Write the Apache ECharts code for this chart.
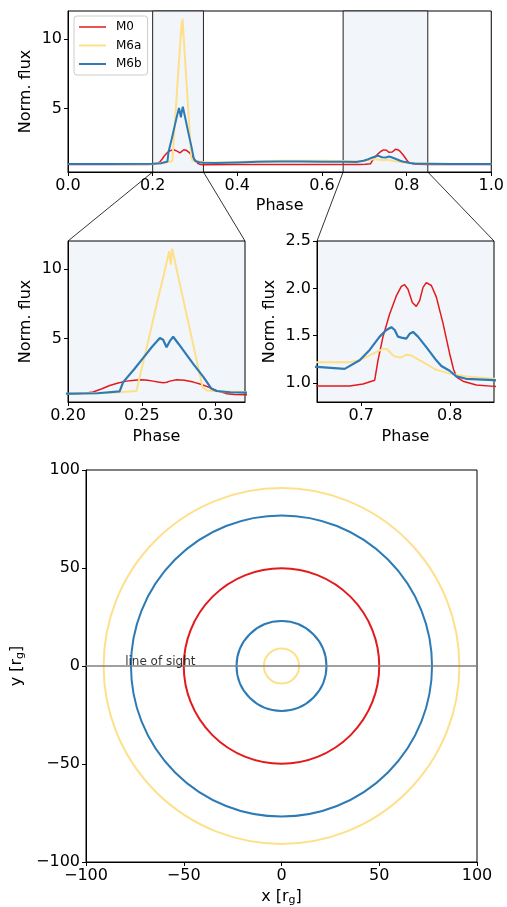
<!DOCTYPE html>
<html><head><meta charset="utf-8">
<script src="https://cdn.jsdelivr.net/npm/echarts@6/dist/echarts.min.js"></script>
<style>html,body{margin:0;padding:0;background:#fff}#c{width:507px;height:907px}</style>
</head><body><div id="c"></div>
<script>
// ---- data ----
const phaseM0 = [0, 0.1, 0.19, 0.2, 0.21, 0.217, 0.223, 0.2283, 0.234, 0.2396, 0.245, 0.2498, 0.254, 0.2577, 0.261, 0.2645, 0.267, 0.269, 0.2736, 0.279, 0.285, 0.29, 0.294, 0.2975, 0.3007, 0.3075, 0.313, 0.32, 0.4, 0.5, 0.6, 0.65, 0.6869, 0.702, 0.7152, 0.7189, 0.7246, 0.7321, 0.7396, 0.7453, 0.749, 0.7528, 0.7577, 0.7622, 0.766, 0.7698, 0.7735, 0.7792, 0.7848, 0.7924, 0.7999, 0.8044, 0.8082, 0.815, 0.83, 0.85, 0.9, 1.0];
const fluxM0 = [0.97, 0.97, 0.97, 0.98, 1.05, 1.15, 1.38, 1.62, 1.8, 1.93, 2.0, 2.03, 2.0, 1.93, 1.86, 1.81, 1.85, 1.93, 2.03, 2.0, 1.86, 1.7, 1.55, 1.4, 1.26, 1.03, 0.97, 0.95, 0.96, 0.96, 0.965, 0.97, 0.97, 0.99, 1.03, 1.24, 1.49, 1.73, 1.92, 2.02, 2.04, 1.99, 1.85, 1.81, 1.87, 2.01, 2.06, 2.03, 1.91, 1.63, 1.31, 1.14, 1.06, 1.02, 0.98, 0.965, 0.96, 0.96];

const phaseM6a = [0, 0.1, 0.2, 0.23, 0.2464, 0.25, 0.255, 0.26, 0.265, 0.2686, 0.2697, 0.2706, 0.275, 0.28, 0.285, 0.2912, 0.294, 0.3, 0.32, 0.35, 0.4, 0.45, 0.5, 0.55, 0.6, 0.65, 0.6869, 0.6982, 0.7133, 0.7246, 0.7291, 0.734, 0.7378, 0.7453, 0.7509, 0.7566, 0.7698, 0.7848, 0.7999, 0.8187, 0.85, 0.9, 1.0];
const fluxM6a = [1.0, 1.0, 1.03, 1.1, 1.22, 2.85, 5.1, 7.4, 9.6, 11.26, 10.3, 11.45, 9.3, 6.9, 4.5, 1.5, 1.26, 1.2, 1.14, 1.12, 1.15, 1.2, 1.23, 1.24, 1.23, 1.22, 1.22, 1.24, 1.31, 1.36, 1.36, 1.31, 1.28, 1.27, 1.30, 1.29, 1.22, 1.14, 1.10, 1.07, 1.045, 1.02, 1.0];

const phaseM6b = [0, 0.1, 0.2, 0.22, 0.235, 0.2374, 0.245, 0.251, 0.257, 0.2623, 0.2645, 0.2668, 0.269, 0.2713, 0.275, 0.2849, 0.292, 0.2973, 0.3007, 0.31, 0.32, 0.35, 0.4, 0.45, 0.5, 0.55, 0.6, 0.65, 0.6813, 0.6831, 0.6982, 0.7095, 0.7208, 0.7283, 0.734, 0.7378, 0.7415, 0.7453, 0.7509, 0.7547, 0.7585, 0.7641, 0.7735, 0.7848, 0.7905, 0.7999, 0.8074, 0.8187, 0.85, 0.9, 1.0];
const fluxM6b = [1.0, 1.0, 1.03, 1.06, 1.19, 1.86, 2.8, 3.6, 4.4, 5.03, 4.9, 4.36, 4.8, 5.12, 4.6, 3.17, 2.2, 1.38, 1.22, 1.13, 1.1, 1.08, 1.12, 1.16, 1.18, 1.18, 1.17, 1.17, 1.15, 1.17, 1.24, 1.35, 1.49, 1.56, 1.59, 1.56, 1.49, 1.48, 1.47, 1.52, 1.54, 1.49, 1.38, 1.24, 1.18, 1.13, 1.07, 1.045, 1.03, 1.0, 1.0];

const zoomBand1 = [0.2, 0.32];
const zoomBand2 = [0.65, 0.85];

const orbitRadiiM0 = [50];
const orbitRadiiM6a = [91, 9];
const orbitRadiiM6b = [77, 23];
const lineOfSightX = [-100, 100];
const lineOfSightY = [0, 0];
const lineOfSightLabelX = -80;

const topXTicks = [0, 0.2, 0.4, 0.6, 0.8, 1.0];
const fluxTicks = [5, 10];
const zoom1XTicks = [0.2, 0.25, 0.3];
const zoom2XTicks = [0.7, 0.8];
const zoom2YTicks = [1.0, 1.5, 2.0, 2.5];
const orbitTicks = [-100, -50, 0, 50, 100];

// ---- styling ----
const C = {M0: '#e31a1c', M6a: '#fee08b', M6b: '#2c7bb6'};
const FONT = 'DejaVu Sans';
const SHADE = '#f2f6fa';

const zip = (a, b) => a.map((v, i) => [v, b[i]]);
const minus = s => String(s).replace('-', '\u2212');

function axis(kind, gi, min, max, ticks, fmt, name, gap, extra) {
  return Object.assign({
    type: 'value', gridIndex: gi, min, max,
    axisLine: {show: true, onZero: false, lineStyle: {color: '#000', width: 1}},
    axisTick: {show: true, length: 4, lineStyle: {color: '#000', width: 1}, customValues: ticks},
    axisLabel: {customValues: ticks, formatter: v => minus(fmt(v)), color: '#000', fontSize: 16, fontFamily: FONT, margin: 6},
    splitLine: {show: false},
    name, nameLocation: 'middle', nameGap: gap, nameMoveOverlap: false,
    nameTextStyle: {color: '#000', fontSize: 16, fontFamily: FONT}
  }, extra || {});
}

const sub = {
  a: {fontSize: 16, fontFamily: FONT, color: '#000'},
  s: {fontSize: 11, fontFamily: FONT, color: '#000', verticalAlign: 'bottom', padding: [8, 0, 0, 0]}
};

function lineSeries(name, px, fx, xi, yi, w) {
  return {
    type: 'line', name, xAxisIndex: xi, yAxisIndex: yi, data: zip(px, fx),
    symbol: 'none', smooth: false, z: 3,
    lineStyle: {color: C[name], width: w}, itemStyle: {color: C[name]}
  };
}

function orbitSeries(name, radii, w) {
  return {
    type: 'custom', name: name + ' orbit', coordinateSystem: 'cartesian2d',
    xAxisIndex: 3, yAxisIndex: 3, z: 3,
    data: radii.map(r => [r, 0]),
    renderItem: function (params, api) {
      const r = api.value(0);
      const c = api.coord([0, 0]);
      const s = api.size([r, r]);
      return {type: 'circle', shape: {cx: c[0], cy: c[1], r: s[0]},
        style: {fill: 'none', stroke: C[name], lineWidth: w}};
    }
  };
}

const lineIcon = (h) => 'path://M0,0L0.01,0M0,' + (7 - h / 2) + 'L27,' + (7 - h / 2) + 'L27,' + (7 + h / 2) + 'L0,' + (7 + h / 2) + 'ZM27,14L26.99,14';

const chart = echarts.init(document.getElementById('c'), null, {renderer: 'canvas'});

const option = {
  animation: false,
  backgroundColor: '#fff',
  grid: [
    {left: 68, top: 11, width: 425, height: 161, show: true, backgroundColor: 'transparent', borderColor: '#000', borderWidth: 1},
    {left: 68, top: 241, width: 177, height: 161, show: true, backgroundColor: SHADE, borderColor: '#000', borderWidth: 1},
    {left: 317, top: 241, width: 177, height: 161, show: true, backgroundColor: SHADE, borderColor: '#000', borderWidth: 1},
    {left: 86, top: 470, width: 391, height: 392, show: true, backgroundColor: 'transparent', borderColor: '#000', borderWidth: 1}
  ],
  xAxis: [
    axis('x', 0, 0, 1, topXTicks, v => v.toFixed(1), 'Phase', 26),
    axis('x', 1, 0.2, 0.32, zoom1XTicks, v => v.toFixed(2), 'Phase', 27),
    axis('x', 2, 0.65, 0.85, zoom2XTicks, v => v.toFixed(1), 'Phase', 27),
    axis('x', 3, -100, 100, orbitTicks, v => String(v), '{a|x [r}{s|g}{a|]}', 25,
      {nameTextStyle: {rich: sub}})
  ],
  yAxis: [
    axis('y', 0, 0.43, 12.0, fluxTicks, v => String(v), 'Norm. flux', 34),
    axis('y', 1, 0.43, 12.0, fluxTicks, v => String(v), 'Norm. flux', 34),
    axis('y', 2, 0.8, 2.5, zoom2YTicks, v => v.toFixed(1), 'Norm. flux', 39),
    axis('y', 3, -100, 100, orbitTicks, v => String(v), '{a|y [r}{s|g}{a|]}', 60,
      {nameTextStyle: {rich: sub}})
  ],
  legend: {
    data: [
      {name: 'M0', icon: lineIcon(1.5)},
      {name: 'M6a', icon: lineIcon(2)},
      {name: 'M6b', icon: lineIcon(2.2)}
    ],
    left: 74, top: 16, orient: 'vertical',
    padding: [4, 6, 4, 5], itemGap: 4.5, itemWidth: 27, itemHeight: 14,
    borderColor: '#cccccc', borderWidth: 1, borderRadius: 3, backgroundColor: '#fff',
    textStyle: {fontSize: 12, fontFamily: FONT, color: '#000', padding: [0, 0, 0, 5]},
    selectedMode: false
  },
  series: [
    {
      type: 'line', name: 'bands', xAxisIndex: 0, yAxisIndex: 0, data: [], z: 1, silent: true,
      markArea: {
        silent: true,
        itemStyle: {color: SHADE, borderColor: '#222', borderWidth: 1},
        data: [[{xAxis: zoomBand1[0]}, {xAxis: zoomBand1[1]}], [{xAxis: zoomBand2[0]}, {xAxis: zoomBand2[1]}]]
      }
    },
    lineSeries('M0', phaseM0, fluxM0, 0, 0, 1.5),
    lineSeries('M6a', phaseM6a, fluxM6a, 0, 0, 2),
    lineSeries('M6b', phaseM6b, fluxM6b, 0, 0, 2),
    lineSeries('M0', phaseM0, fluxM0, 1, 1, 1.5),
    lineSeries('M6a', phaseM6a, fluxM6a, 1, 1, 2),
    lineSeries('M6b', phaseM6b, fluxM6b, 1, 1, 2.2),
    lineSeries('M0', phaseM0, fluxM0, 2, 2, 1.5),
    lineSeries('M6a', phaseM6a, fluxM6a, 2, 2, 2),
    lineSeries('M6b', phaseM6b, fluxM6b, 2, 2, 2.2),
    orbitSeries('M6a', orbitRadiiM6a, 2),
    orbitSeries('M6b', orbitRadiiM6b, 2),
    orbitSeries('M0', orbitRadiiM0, 2),
    {
      type: 'line', name: 'los', xAxisIndex: 3, yAxisIndex: 3, z: 4, symbol: 'none',
      data: zip(lineOfSightX, lineOfSightY),
      lineStyle: {color: '#808080', width: 1.5}
    },
    {
      type: 'scatter', name: 'los label', xAxisIndex: 3, yAxisIndex: 3, z: 5,
      symbolSize: 0.1, data: [[lineOfSightLabelX, 0]], silent: true,
      label: {show: true, position: 'right', distance: 0, offset: [0, -4], formatter: 'line of sight',
        fontSize: 12, fontFamily: FONT, color: '#000'}
    }
  ]
};
chart.setOption(option);

// zoom connector lines between top panel bands and zoom panels
function connectors() {
  const g = [];
  const pairs = [
    [zoomBand1[0], 1, [zoomBand1[0], 12.0]],
    [zoomBand1[1], 1, [zoomBand1[1], 12.0]],
    [zoomBand2[0], 2, [zoomBand2[0], 2.5]],
    [zoomBand2[1], 2, [zoomBand2[1], 2.5]]
  ];
  pairs.forEach(p => {
    const a = chart.convertToPixel({gridIndex: 0}, [p[0], 0.43]);
    const b = chart.convertToPixel({gridIndex: p[1]}, p[2]);
    g.push({type: 'line', silent: true, z: 10,
      shape: {x1: a[0], y1: a[1], x2: b[0], y2: b[1]},
      style: {stroke: '#000', lineWidth: 0.8}});
  });
  chart.setOption({graphic: g});
}
connectors();
</script></body></html>
